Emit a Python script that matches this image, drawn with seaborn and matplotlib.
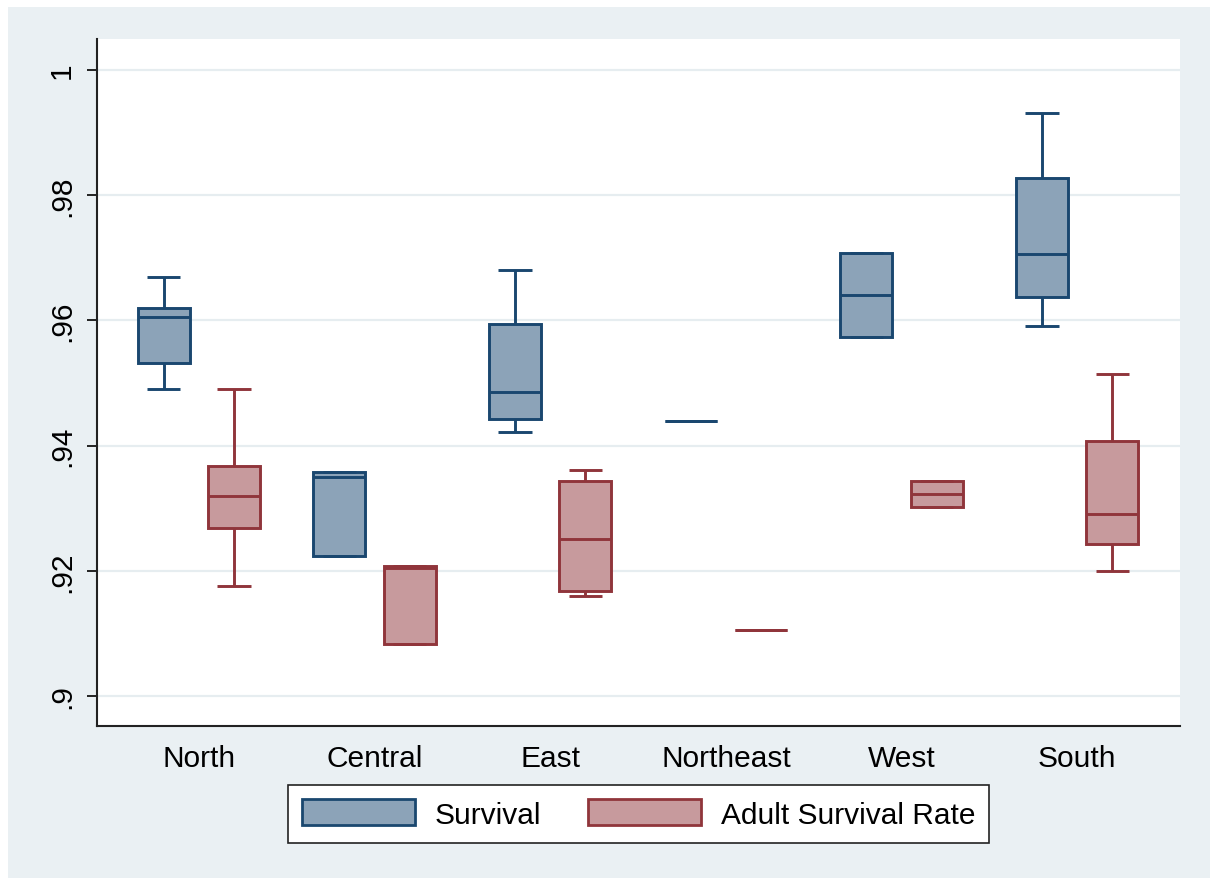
import numpy as np
import pandas as pd
import matplotlib
matplotlib.use("Agg")
import matplotlib.pyplot as plt
from matplotlib.patches import Patch, Rectangle
import seaborn as sns

# Five-number summaries per region (lower whisker, Q1, median, Q3, upper whisker)
regions = ["North", "Central", "East", "Northeast", "West", "South"]

survival_low = [0.9491, 0.9223, 0.9421, 0.9440, 0.9573, 0.9591]
survival_q1 = [0.9532, 0.9223, 0.9442, 0.9440, 0.9573, 0.9637]
survival_med = [0.9606, 0.9350, 0.9485, 0.9440, 0.9641, 0.9706]
survival_q3 = [0.9619, 0.9358, 0.9594, 0.9440, 0.9708, 0.9828]
survival_high = [0.9670, 0.9358, 0.9681, 0.9440, 0.9708, 0.9931]

adult_low = [0.9175, 0.9083, 0.9160, 0.9106, 0.9302, 0.9200]
adult_q1 = [0.9268, 0.9083, 0.9167, 0.9106, 0.9302, 0.9243]
adult_med = [0.9320, 0.9205, 0.9251, 0.9106, 0.9322, 0.9291]
adult_q3 = [0.9368, 0.9208, 0.9343, 0.9106, 0.9344, 0.9407]
adult_high = [0.9490, 0.9208, 0.9361, 0.9106, 0.9344, 0.9515]

series_names = ["Survival", "Adult Survival Rate"]
y_ticks = [0.9, 0.92, 0.94, 0.96, 0.98, 1.0]
y_tick_labels = [".9", ".92", ".94", ".96", ".98", "1"]

# Long-form table: five observations per box reproduce the summaries exactly
rows = []
for name, parts in zip(series_names, [
        (survival_low, survival_q1, survival_med, survival_q3, survival_high),
        (adult_low, adult_q1, adult_med, adult_q3, adult_high)]):
    for i, reg in enumerate(regions):
        for arr in parts:
            rows.append({"region": reg, "series": name, "value": arr[i]})
df = pd.DataFrame(rows)

edge_colors = {"Survival": "#1A476F", "Adult Survival Rate": "#90353B"}
fill_colors = {"Survival": "#8CA3B8", "Adult Survival Rate": "#C79A9D"}
bg_color = "#EAF0F3"

sns.set_theme(style="white")
plt.rcParams["font.family"] = ["Liberation Sans", "DejaVu Sans"]
plt.rcParams["text.color"] = "black"
plt.rcParams["xtick.color"] = "black"
plt.rcParams["ytick.color"] = "black"

fig = plt.figure(figsize=(12.1, 8.79), dpi=100, facecolor="white")
fig.patches.append(Rectangle((8 / 1210, 0), 1, 1 - 8 / 879, transform=fig.transFigure,
                             facecolor=bg_color, edgecolor="none", zorder=-10))
ax = fig.add_axes([97 / 1210, 1 - 727 / 879, (1180 - 97) / 1210, (727 - 40) / 879])
ax.set_facecolor("white")

for yv in y_ticks:
    ax.axhline(yv, color="#E6EDF0", lw=1.6, zorder=0)

sns.boxplot(data=df, x="region", y="value", hue="series", order=regions,
            hue_order=series_names, palette=fill_colors, width=0.8, gap=0.26,
            whis=(0, 100), linewidth=2.1, capwidths=0.19, showfliers=False,
            legend=False, ax=ax, zorder=3)

# Colour each series' outline, whiskers, caps and medians
for cont, name in zip(ax.containers, series_names):
    ec = edge_colors[name]
    for b in cont.boxes:
        b.set_edgecolor(ec)
        b.set_facecolor(fill_colors[name])
    for group in (cont.medians, cont.whiskers, cont.caps):
        for ln in group:
            ln.set_color(ec)
            ln.set_solid_capstyle("butt")

ax.set_xlim(-0.58, 5.585)
ax.set_ylim(0.8952, 1.00495)
ax.set_yticks(y_ticks)
ax.set_yticklabels(y_tick_labels, rotation=90, va="center", fontsize=21.5)
ax.tick_params(axis="y", length=7, width=1.4, color="#222222", labelcolor="black",
               pad=8, left=True)
ax.tick_params(axis="x", length=0, pad=13, labelsize=21.5, labelcolor="black")
ax.set_xlabel("")
ax.set_ylabel("")
for side in ("top", "right"):
    ax.spines[side].set_visible(False)
for side in ("left", "bottom"):
    ax.spines[side].set_color("#222222")
    ax.spines[side].set_linewidth(1.5)

handles = [Patch(facecolor=fill_colors[n], edgecolor=edge_colors[n], linewidth=2.0, label=n)
           for n in series_names]
leg = fig.legend(handles=handles, loc="center", bbox_to_anchor=(638.5 / 1210, 1 - 815 / 879),
                 ncol=2, fontsize=21.5, frameon=True, fancybox=False, framealpha=1,
                 edgecolor="#222222", handlelength=3.8, handleheight=0.97,
                 handletextpad=0.65, columnspacing=1.55, borderpad=0.48)
leg.get_frame().set_linewidth(1.2)
for t in leg.get_texts():
    t.set_color("black")

fig.savefig("out.png", dpi=100, facecolor=fig.get_facecolor())
